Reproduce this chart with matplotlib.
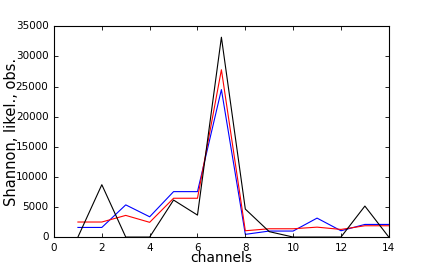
import matplotlib
matplotlib.use("Agg")
import matplotlib.pyplot as plt

# channel numbers and the three curves
channels = list(range(1, 15))
observed = [0, 8700, 0, 0, 6150, 3650, 33200, 4650, 900, 0, 0, 0, 5150, 0]
likelihood = [2500, 2500, 3600, 2450, 6450, 6450, 27800, 1050, 1380, 1380, 1650, 1270, 1880, 1880]
shannon = [1600, 1600, 5350, 3370, 7550, 7550, 24500, 450, 1000, 1000, 3150, 1050, 2100, 2100]

plt.style.use("classic")
fig = plt.figure(figsize=(4.32, 2.64), dpi=100)
ax = fig.add_axes([0.125, 0.102, 0.775, 0.798])

ax.plot(channels, shannon, color="blue", lw=0.8)
ax.plot(channels, likelihood, color="red", lw=0.8)
ax.plot(channels, observed, color="black", lw=0.8)

ax.set_xlim(0, 14)
ax.set_ylim(0, 35000)
ax.set_xticks(range(0, 15, 2))
ax.set_yticks(range(0, 35001, 5000))
ax.tick_params(labelsize=7.5, length=3, width=0.6)
for s in ax.spines.values():
    s.set_linewidth(0.8)
ax.set_xlabel("channels", fontsize=10)
ax.set_ylabel("Shannon, likel., obs.", fontsize=10.5)
ax.xaxis.set_label_coords(0.5, -0.068)
ax.yaxis.set_label_coords(-0.105, 0.5)

fig.savefig("out.png", dpi=100)
